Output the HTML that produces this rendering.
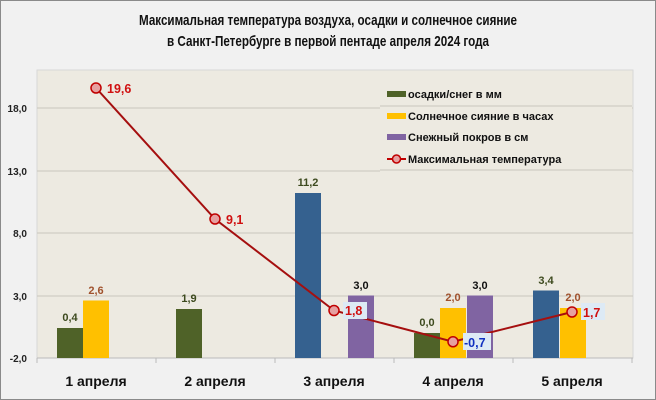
<!DOCTYPE html>
<html><head><meta charset="utf-8"><style>
html,body{margin:0;padding:0;background:#f1f1f1}
svg{display:block;font-family:"Liberation Sans",sans-serif;font-weight:bold}
</style></head><body>
<svg width="656" height="400" viewBox="0 0 656 400">
<rect x="0.5" y="0.5" width="655" height="399" fill="#f1f1f1" stroke="#8a8a8a"/>
<text x="328" y="25" text-anchor="middle" font-size="15" textLength="378" lengthAdjust="spacingAndGlyphs" fill="#111">Максимальная температура воздуха, осадки и солнечное сияние</text>
<text x="328" y="46" text-anchor="middle" font-size="15" textLength="322" lengthAdjust="spacingAndGlyphs" fill="#111">в Санкт-Петербурге в первой пентаде апреля 2024 года</text>
<rect x="37" y="70" width="596" height="288" fill="#edeae1" stroke="#d8d8d8"/>
<g stroke="#c9c6bd" stroke-width="1">
<line x1="37" y1="108" x2="633" y2="108"/><line x1="37" y1="171" x2="633" y2="171"/>
<line x1="37" y1="233" x2="633" y2="233"/><line x1="37" y1="296" x2="633" y2="296"/>
</g>
<line x1="37" y1="358" x2="633" y2="358" stroke="#bbb"/>
<g stroke="#bbb"><line x1="37" y1="358" x2="37" y2="363"/><line x1="156" y1="358" x2="156" y2="363"/><line x1="275" y1="358" x2="275" y2="363"/><line x1="394" y1="358" x2="394" y2="363"/><line x1="513" y1="358" x2="513" y2="363"/><line x1="632" y1="358" x2="632" y2="363"/></g>
<g font-size="10" fill="#222" text-anchor="end">
<text x="27" y="112">18,0</text><text x="27" y="175">13,0</text><text x="27" y="237">8,0</text><text x="27" y="300">3,0</text><text x="27" y="362">-2,0</text>
</g>
<g font-size="14" fill="#111" text-anchor="middle">
<text x="96" y="386">1 апреля</text><text x="215" y="386">2 апреля</text><text x="334" y="386">3 апреля</text><text x="453" y="386">4 апреля</text><text x="572" y="386">5 апреля</text>
</g>
<!-- legend -->
<rect x="380" y="77" width="252" height="98" fill="#edeae1"/>
<line x1="380" y1="106" x2="632" y2="106" stroke="#c9c6bd"/>
<line x1="380" y1="170" x2="632" y2="170" stroke="#c9c6bd"/>
<rect x="387" y="91" width="19" height="6" fill="#4f6228"/>
<rect x="387" y="113" width="19" height="6" fill="#ffc000"/>
<rect x="387" y="134" width="19" height="6" fill="#8064a2"/>
<line x1="387" y1="159" x2="406" y2="159" stroke="#c00000" stroke-width="2"/>
<circle cx="396.5" cy="159" r="4" fill="#e6a0a0" stroke="#c00000" stroke-width="1.5"/>
<g font-size="11" fill="#111">
<text x="408" y="98">осадки/снег в мм</text>
<text x="408" y="120">Солнечное сияние в часах</text>
<text x="408" y="141">Снежный покров в см</text>
<text x="408" y="163">Максимальная температура</text>
</g>
<!-- bars -->
<rect x="57" y="328" width="26" height="30" fill="#4f6228"/>
<rect x="83" y="300.5" width="26" height="57.5" fill="#ffc000"/>
<rect x="176" y="309" width="26" height="49" fill="#4f6228"/>
<rect x="295" y="193" width="26" height="165" fill="#35618f"/>
<rect x="348" y="295.5" width="26" height="62.5" fill="#8064a2"/>
<rect x="414" y="333" width="26" height="25" fill="#4f6228"/>
<rect x="440" y="308" width="26" height="50" fill="#ffc000"/>
<rect x="467" y="295.5" width="26" height="62.5" fill="#8064a2"/>
<rect x="533" y="290.5" width="26" height="67.5" fill="#35618f"/>
<rect x="560" y="308" width="26" height="50" fill="#ffc000"/>
<g font-size="11" text-anchor="middle">
<text x="70" y="321" fill="#3d4a1e">0,4</text>
<text x="96" y="294" fill="#a0522d">2,6</text>
<text x="189" y="302" fill="#3d4a1e">1,9</text>
<text x="308" y="186" fill="#3d4a1e">11,2</text>
<text x="361" y="289" fill="#111">3,0</text>
<text x="427" y="326" fill="#3d4a1e">0,0</text>
<text x="453" y="301" fill="#a0522d">2,0</text>
<text x="480" y="289" fill="#111">3,0</text>
<text x="546" y="284" fill="#3d4a1e">3,4</text>
<text x="573" y="301" fill="#a0522d">2,0</text>
</g>
<!-- line -->
<polyline points="96,88 215,219 334,310.5 453,341.75 572,312" fill="none" stroke="#a50f0f" stroke-width="2"/>
<rect x="343" y="302" width="24" height="17" fill="#ddeaf5"/>
<rect x="463" y="333" width="28" height="17" fill="#ddeaf5"/>
<rect x="581" y="303" width="24" height="17" fill="#ddeaf5"/>
<g fill="#e6a0a0" stroke="#c00000" stroke-width="1.5">
<circle cx="96" cy="88" r="5"/><circle cx="215" cy="219" r="5"/><circle cx="334" cy="310.5" r="5"/><circle cx="453" cy="341.75" r="5"/><circle cx="572" cy="312" r="5"/>
</g>
<g font-size="12.5">
<text x="107" y="93" fill="#d01010">19,6</text>
<text x="226" y="224" fill="#d01010">9,1</text>
<text x="345" y="315" fill="#d01010">1,8</text>
<text x="464" y="347" fill="#1030c0">-0,7</text>
<text x="583" y="317" fill="#d01010">1,7</text>
</g>
</svg>
</body></html>
